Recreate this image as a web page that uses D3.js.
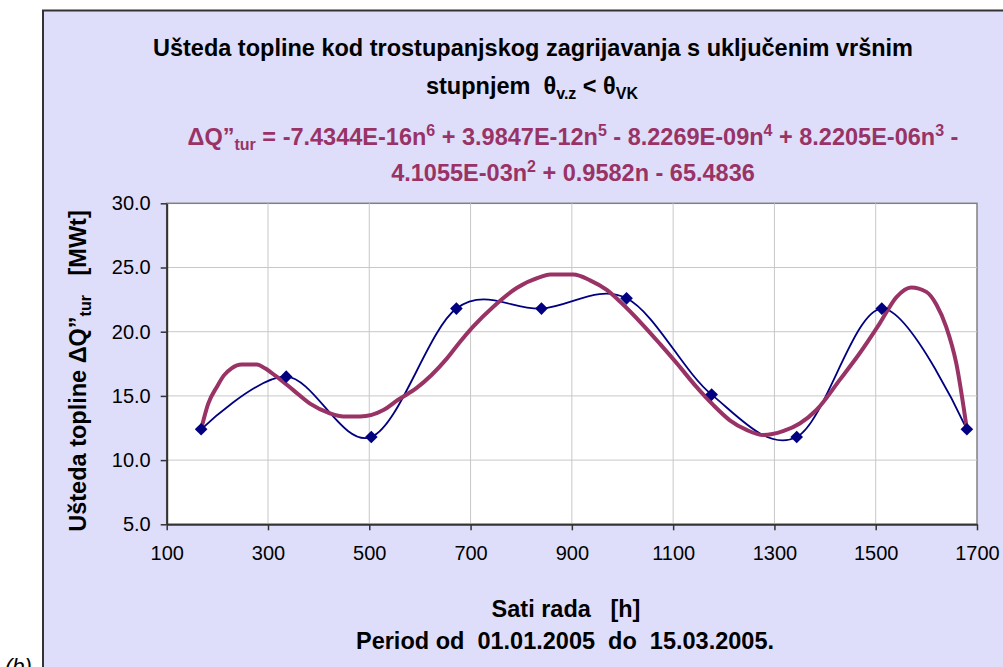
<!DOCTYPE html>
<html><head><meta charset="utf-8">
<script src="https://cdn.jsdelivr.net/npm/d3@7"></script>
<style>
html,body{margin:0;padding:0;background:#fff;}
svg{display:block;font-family:"Liberation Sans",Arial,sans-serif;}
text{white-space:pre;}
</style></head>
<body><svg id="c" width="1003" height="667"></svg>
<script>
// Weekly measurements (hours of operation vs. heat saving, MWt)
const hours = [168, 336, 504, 672, 840, 1008, 1176, 1344, 1512, 1680];
const savings = [12.4, 16.5, 11.8, 21.8, 21.8, 22.6, 15.1, 11.8, 21.8, 12.4];
// Polynomial trendline
const trendHours = [168,182,199,213,228,248,278,294,317,350,383,422,449,482,528,557,593,653,679,705,745,791,837,857,903,936,969,995,1041,1074,1107,1146,1179,1212,1245,1278,1317,1350,1383,1429,1468,1508,1541,1570,1600,1620,1639,1659,1680];
const trendValues = [12.4,14.4,15.7,16.6,17.15,17.45,17.45,17.15,16.5,15.45,14.4,13.65,13.4,13.4,13.9,14.7,15.6,17.9,19.2,20.4,21.95,23.4,24.25,24.45,24.45,24.0,23.25,22.35,20.5,19.05,17.55,15.7,14.3,13.1,12.35,11.95,12.25,12.85,13.9,16.25,18.3,20.65,22.7,23.45,23.1,22.1,20.4,17.55,12.4];
const xTicks = [100, 300, 500, 700, 900, 1100, 1300, 1500, 1700];
const yTicks = [5, 10, 15, 20, 25, 30];

const svg = d3.select("#c");
const L = 166.7, R = 977, T = 203.3, B = 524.3;
const x = d3.scaleLinear().domain([100, 1700]).range([L, R]);
const y = d3.scaleLinear().domain([5, 30]).range([B, T]);
const FS = 23.5, SS = 16;

// chart area
svg.append("rect").attr("x", 43).attr("y", 10.5).attr("width", 1000).attr("height", 700)
  .attr("fill", "#DEDEFA").attr("stroke", "#333").attr("stroke-width", 2);

// plot area
svg.append("rect").attr("x", L).attr("y", T).attr("width", R - L).attr("height", B - T)
  .attr("fill", "#fff").attr("stroke", "#808080").attr("stroke-width", 1.5);

// gridlines
svg.append("g").selectAll("line").data(xTicks.slice(1, -1)).join("line")
  .attr("x1", d => x(d)).attr("x2", d => x(d)).attr("y1", T).attr("y2", B)
  .attr("stroke", "#C8C8C8").attr("stroke-width", 1);
svg.append("g").selectAll("line").data(yTicks.slice(1, -1)).join("line")
  .attr("x1", L).attr("x2", R).attr("y1", d => y(d)).attr("y2", d => y(d))
  .attr("stroke", "#C8C8C8").attr("stroke-width", 1);

// axes
const xAxis = svg.append("g").attr("transform", `translate(0,${B})`)
  .call(d3.axisBottom(x).tickValues(xTicks).tickFormat(d3.format("d")).tickSizeInner(6).tickSizeOuter(0).tickPadding(16));
const yAxis = svg.append("g").attr("transform", `translate(${L},0)`)
  .call(d3.axisLeft(y).tickValues(yTicks).tickFormat(d3.format(".1f")).tickSizeInner(6).tickSizeOuter(0).tickPadding(10));
[xAxis, yAxis].forEach(a => {
  a.select(".domain").attr("stroke", "#333").attr("stroke-width", 2);
  a.selectAll(".tick line").attr("stroke", "#333").attr("stroke-width", 1.5);
  a.selectAll(".tick text").attr("font-size", 20).attr("fill", "#000")
    .attr("font-family", "'Liberation Sans', Arial, sans-serif");
});
xAxis.selectAll(".tick text").attr("dy", "0.71em");

// measured line (smoothed)
const line = d3.line().x((d, i) => x(hours[i])).y(d => y(d)).curve(d3.curveCatmullRom.alpha(0));
svg.append("path").datum(savings).attr("d", line).attr("fill", "none")
  .attr("stroke", "#000080").attr("stroke-width", 1.8);

// trendline
const tline = d3.line().x((d, i) => x(trendHours[i])).y(d => y(d)).curve(d3.curveMonotoneX);
svg.append("path").datum(trendValues).attr("d", tline).attr("fill", "none")
  .attr("stroke", "#993366").attr("stroke-width", 4).attr("stroke-linejoin", "round");

// markers
svg.append("g").selectAll("path").data(savings).join("path")
  .attr("d", d3.symbol().type(d3.symbolSquare).size(80))
  .attr("transform", (d, i) => `translate(${x(hours[i])},${y(d)}) rotate(45)`)
  .attr("fill", "#000080");

// Title
svg.append("text").attr("x", 533).attr("y", 55.5).attr("text-anchor", "middle").attr("font-weight", "bold")
  .attr("font-size", FS).attr("fill", "#000")
  .text("Ušteda topline kod trostupanjskog zagrijavanja s uključenim vršnim");
const t2 = svg.append("text").attr("x", 532).attr("y", 93.5).attr("text-anchor", "middle")
  .attr("font-weight", "bold").attr("font-size", FS).attr("fill", "#000");
t2.append("tspan").text("stupnjem  θ");
t2.append("tspan").attr("font-size", SS).attr("dy", 5).text("v.z");
t2.append("tspan").attr("dy", -5).text(" < θ");
t2.append("tspan").attr("font-size", SS).attr("dy", 5).text("VK");

// Equation
const eqColor = "#993366";
const e1 = svg.append("text").attr("x", 573).attr("y", 144.5).attr("text-anchor", "middle")
  .attr("font-weight", "bold").attr("font-size", FS).attr("fill", eqColor);
e1.append("tspan").text("ΔQ”");
e1.append("tspan").attr("font-size", SS).attr("dy", 5).text("tur");
e1.append("tspan").attr("dy", -5).text(" = -7.4344E-16n");
e1.append("tspan").attr("font-size", SS).attr("dy", -9).text("6");
e1.append("tspan").attr("dy", 9).text(" + 3.9847E-12n");
e1.append("tspan").attr("font-size", SS).attr("dy", -9).text("5");
e1.append("tspan").attr("dy", 9).text(" - 8.2269E-09n");
e1.append("tspan").attr("font-size", SS).attr("dy", -9).text("4");
e1.append("tspan").attr("dy", 9).text(" + 8.2205E-06n");
e1.append("tspan").attr("font-size", SS).attr("dy", -9).text("3");
e1.append("tspan").attr("dy", 9).text(" -");
const e2 = svg.append("text").attr("x", 573).attr("y", 180.5).attr("text-anchor", "middle")
  .attr("font-weight", "bold").attr("font-size", FS).attr("fill", eqColor);
e2.append("tspan").text("4.1055E-03n");
e2.append("tspan").attr("font-size", SS).attr("dy", -9).text("2");
e2.append("tspan").attr("dy", 9).text(" + 0.9582n - 65.4836");

// Axis titles
svg.append("text").attr("x", 566).attr("y", 616.5).attr("text-anchor", "middle").attr("font-weight", "bold")
  .attr("font-size", FS).attr("fill", "#000").text("Sati rada   [h]");
svg.append("text").attr("x", 565).attr("y", 648.5).attr("text-anchor", "middle").attr("font-weight", "bold")
  .attr("font-size", FS).attr("fill", "#000").text("Period od  01.01.2005  do  15.03.2005.");

const yt = svg.append("text").attr("transform", "translate(86,371) rotate(-90)")
  .attr("text-anchor", "middle").attr("font-weight", "bold").attr("font-size", FS).attr("fill", "#000");
yt.append("tspan").text("Ušteda topline ΔQ”");
yt.append("tspan").attr("font-size", SS).attr("dy", 5).text("tur");
yt.append("tspan").attr("dy", -5).text("   [MWt]");

// panel label
svg.append("text").attr("x", 5).attr("y", 674).attr("font-size", 22).attr("font-style", "italic")
  .attr("fill", "#000").text("(b)");
</script></body></html>
